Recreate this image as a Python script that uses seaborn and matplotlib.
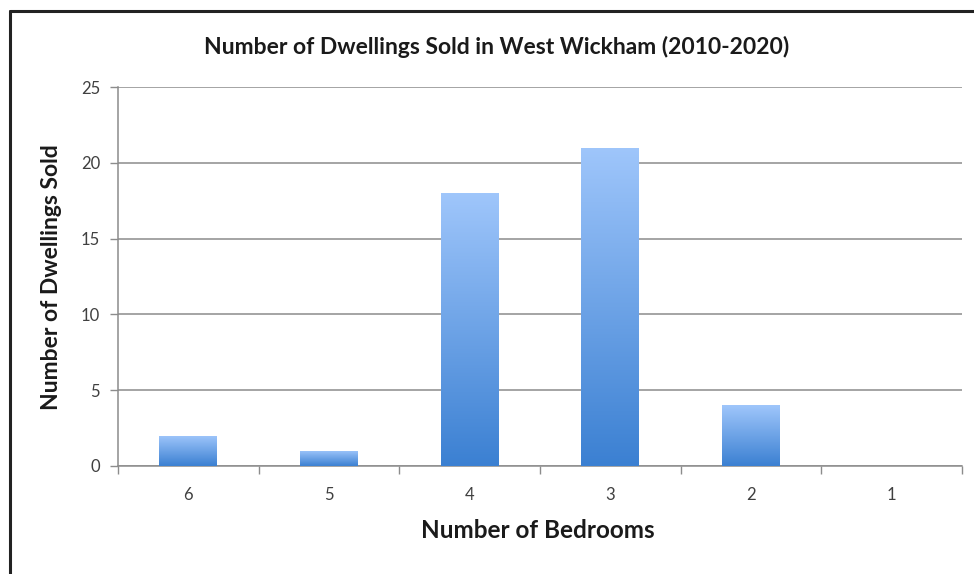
import numpy as np
import pandas as pd
import seaborn as sns
import matplotlib.pyplot as plt
from matplotlib.colors import LinearSegmentedColormap
from matplotlib.lines import Line2D

bedrooms = ['6', '5', '4', '3', '2', '1']
sold = [2, 1, 18, 21, 4, 0]

df = pd.DataFrame({'Bedrooms': bedrooms, 'Sold': sold})

sns.set_style('white')
plt.rcParams['font.family'] = ['Lato', 'DejaVu Sans']

fig = plt.figure(figsize=(9.74, 5.74), dpi=100)
ax = fig.add_axes([118 / 974, 1 - 466 / 574, (962 - 118) / 974, (466 - 87) / 574])

sns.barplot(data=df, x='Bedrooms', y='Sold', color='#6fa3ea', width=0.41,
            ax=ax, zorder=3)

# gradient fill, light on top, darker at the bottom
cmap = LinearSegmentedColormap.from_list('bar', ['#3b80d2', '#9fc6fb'])
grad = np.linspace(0, 1, 256).reshape(-1, 1)
for p in ax.patches:
    h = p.get_height()
    if h <= 0:
        p.set_visible(False)
        continue
    x0 = p.get_x()
    w = p.get_width()
    im = ax.imshow(grad, cmap=cmap, origin='lower', aspect='auto',
                   extent=[x0, x0 + w, 0, h], zorder=4)
    im.set_clip_path(p)
    p.set_edgecolor('none')

ax.set_xlim(-0.5, 5.5)
ax.set_ylim(0, 25)
ax.set_yticks([0, 5, 10, 15, 20, 25])
ax.yaxis.grid(True, color='#8c8c8c', linewidth=1.1, zorder=0)
ax.set_axisbelow(True)

ax.set_xticks(np.arange(-0.5, 6, 1), minor=False)
ax.set_xticklabels([])
ax.set_xticks(range(6), minor=True)
ax.set_xticklabels(bedrooms, minor=True)
ax.tick_params(axis='x', which='major', direction='out', length=6, width=1,
               color='#8c8c8c', bottom=True)
ax.tick_params(axis='x', which='minor', length=0, pad=15, labelsize=12,
               labelcolor='#404040')
ax.tick_params(axis='y', direction='out', length=6, width=1, color='#8c8c8c',
               left=True, pad=7, labelsize=12, labelcolor='#404040')

for s in ['top', 'right']:
    ax.spines[s].set_visible(False)
for s in ['left', 'bottom']:
    ax.spines[s].set_color('#8c8c8c')
    ax.spines[s].set_linewidth(1.1)

ax.set_xlabel('')
ax.set_ylabel('')
fig.text(538 / 974, 1 - 531 / 574, 'Number of Bedrooms', ha='center',
         va='center', fontsize=17.5, fontweight='bold', color='#1a1a1a')
fig.text(52 / 974, 1 - 277 / 574, 'Number of Dwellings Sold', ha='center',
         va='center', rotation=90, fontsize=16.5, fontweight='bold',
         color='#1a1a1a')
fig.text(497 / 974, 1 - 47 / 574,
         'Number of Dwellings Sold in West Wickham (2010-2020)',
         ha='center', va='center', fontsize=16.5, fontweight='bold',
         color='#1a1a1a')

# outer frame (left and top only visible)
fig.add_artist(Line2D([10 / 974, 10 / 974], [0, 1 - 11 / 574],
                      color='#222222', linewidth=2.2, transform=fig.transFigure))
fig.add_artist(Line2D([10 / 974, 1], [1 - 11 / 574, 1 - 11 / 574],
                      color='#222222', linewidth=2.2, transform=fig.transFigure))

fig.savefig('out.png', dpi=100)
